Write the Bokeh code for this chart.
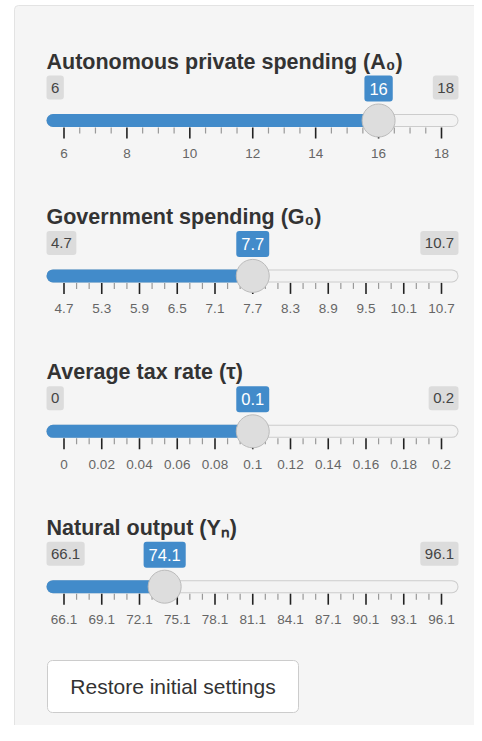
from bokeh.plotting import figure
from bokeh.models import Range1d
from bokeh.core.properties import value
from bokeh.embed import file_html
from bokeh.resources import INLINE

# ---------------- data ----------------
titles = ["Autonomous private spending (A\u2080)", "Government spending (G\u2080)",
          "Average tax rate (\u03c4)", "Natural output (Y\u2099)"]
slider_min = [6, 4.7, 0, 66.1]
slider_max = [18, 10.7, 0.2, 96.1]
slider_value = [16, 7.7, 0.1, 74.1]
min_labels = ["6", "4.7", "0", "66.1"]
max_labels = ["18", "10.7", "0.2", "96.1"]
value_labels = ["16", "7.7", "0.1", "74.1"]
tick_labels_1 = ["6", "8", "10", "12", "14", "16", "18"]
tick_labels_2 = ["4.7", "5.3", "5.9", "6.5", "7.1", "7.7", "8.3", "8.9", "9.5", "10.1", "10.7"]
tick_labels_3 = ["0", "0.02", "0.04", "0.06", "0.08", "0.1", "0.12", "0.14", "0.16", "0.18", "0.2"]
tick_labels_4 = ["66.1", "69.1", "72.1", "75.1", "78.1", "81.1", "84.1", "87.1", "90.1", "93.1", "96.1"]
tick_labels = [tick_labels_1, tick_labels_2, tick_labels_3, tick_labels_4]
minor_per_interval = [3, 2, 2, 2]
button_label = "Restore initial settings"

# ---------------- style / layout ----------------
FONT = value("Liberation Sans")
BLUE = "#428bca"
W, H = 474, 725
X0, X1 = 63.5, 441.0          # pixel position of slider min / max
TRACK_L, TRACK_R = 46.0, 458.0
TRACK_Y0, SLIDER_STEP = 120.0, 155.4


def text_width(s, size):
    w = 0.0
    for ch in s:
        w += 0.278 if ch == "." else 0.556
    return w * size


p = figure(width=W, height=H, x_range=Range1d(0, W), y_range=Range1d(H, 0),
           output_backend="svg", toolbar_location=None, min_border=0,
           x_axis_location=None, y_axis_location=None, tools="")
p.grid.visible = False
p.outline_line_color = None
p.background_fill_color = "white"
p.border_fill_color = "white"

# panel
p.quad(left=[14], right=[520], top=[5], bottom=[737], fill_color="#f5f5f5",
       line_color="#e3e3e3", line_width=1, border_radius=4)

for k in range(4):
    ty = TRACK_Y0 + SLIDER_STEP * k
    vmin, vmax, val = slider_min[k], slider_max[k], slider_value[k]
    span = vmax - vmin
    name = f"s{k}"
    p.extra_x_ranges[name] = Range1d(vmin - X0 / (X1 - X0) * span,
                                     vmax + (W - X1) / (X1 - X0) * span)

    def to_val(px):
        return vmin + (px - X0) / (X1 - X0) * span

    # title
    p.text(x=[46], y=[ty - 59], text=[titles[k]], text_font=FONT, text_font_style="bold",
           text_font_size="21.5px", text_color="#333333", text_baseline="alphabetic",
           text_align="left")

    # track
    le, re = to_val(TRACK_L + 6.5), to_val(TRACK_R - 6.5)
    p.segment(x0=[le], y0=[ty], x1=[re], y1=[ty], line_width=13, line_color="#cccccc",
              line_cap="round", x_range_name=name)
    p.segment(x0=[le], y0=[ty], x1=[re], y1=[ty], line_width=11, line_color="#f3f3f3",
              line_cap="round", x_range_name=name)
    p.segment(x0=[le], y0=[ty], x1=[val], y1=[ty], line_width=13, line_color=BLUE,
              line_cap="round", x_range_name=name)

    # ticks
    majors = [float(s) for s in tick_labels[k]]
    minors = []
    n = minor_per_interval[k]
    for a, b in zip(majors[:-1], majors[1:]):
        for j in range(1, n + 1):
            minors.append(a + (b - a) * j / (n + 1))
    p.segment(x0=minors, y0=[ty + 7] * len(minors), x1=minors, y1=[ty + 13] * len(minors),
              line_color="#999999", line_width=1.2, x_range_name=name)
    p.segment(x0=majors, y0=[ty + 7] * len(majors), x1=majors, y1=[ty + 18] * len(majors),
              line_color="#222222", line_width=1.6, x_range_name=name)
    p.text(x=majors, y=[ty + 33] * len(majors), text=tick_labels[k], text_font=FONT,
           text_font_size="13.5px", text_color="#666666", text_align="center",
           text_baseline="middle", x_range_name=name)

    # handle
    p.scatter(x=[val], y=[ty], marker="circle", size=33, fill_color="#dddddd",
              line_color="#bbbbbb", line_width=1, x_range_name=name)

    # min / max boxes
    wmin = text_width(min_labels[k], 15) + 9
    wmax = text_width(max_labels[k], 15) + 9
    p.rect(x=[TRACK_L + wmin / 2, TRACK_R - wmax / 2], y=[ty - 33, ty - 33],
           width=[wmin, wmax], height=24, fill_color="#dcdcdc", line_color=None,
           border_radius=3)
    p.text(x=[TRACK_L + wmin / 2, TRACK_R - wmax / 2], y=[ty - 33, ty - 33],
           text=[min_labels[k], max_labels[k]], text_font=FONT, text_font_size="15px",
           text_color="#444444", text_align="center", text_baseline="middle")

    # value box
    wv = text_width(value_labels[k], 16.5) + 10
    p.rect(x=[val], y=[ty - 32], width=[wv], height=26, width_units="screen",
           height_units="screen", fill_color=BLUE, line_color=None, border_radius=3,
           x_range_name=name)
    p.text(x=[val], y=[ty - 32], text=[value_labels[k]], text_font=FONT,
           text_font_size="16.5px", text_color="white", text_align="center",
           text_baseline="middle", x_range_name=name)

# button
p.rect(x=[172.5], y=[686], width=[251], height=52, fill_color="white",
       line_color="#cccccc", line_width=1, border_radius=5)
p.text(x=[172.5], y=[686], text=[button_label], text_font=FONT, text_font_size="21px",
       text_color="#333333", text_align="center", text_baseline="middle")

open("out.html", "w").write(file_html(p, INLINE))
